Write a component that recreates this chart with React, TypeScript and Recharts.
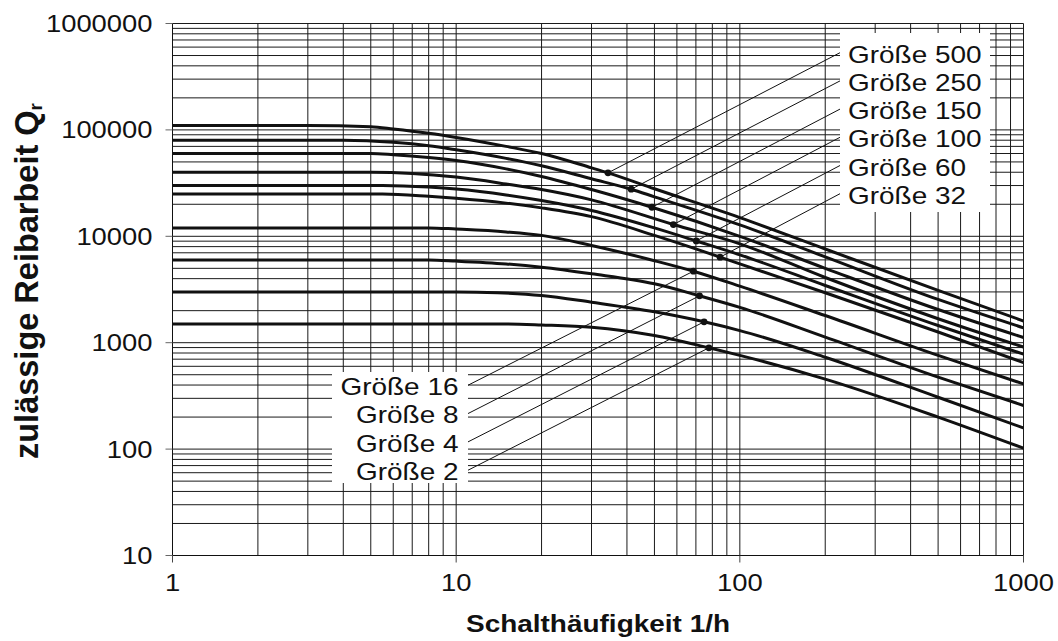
import { LineChart, Line, XAxis, YAxis, CartesianGrid } from "recharts"

const FONT = '"Liberation Sans", Arial, Helvetica, sans-serif'
const STRETCH = 1.165
const INK = "#111"

// Größe -> points [Schalthäufigkeit 1/h, zulässige Reibarbeit Qr]
const q500 = [[1, 110000], [3, 110000], [5, 107000], [6, 102000], [8, 93000], [10, 85000], [15, 70000], [20, 60000], [30, 44000], [34.3, 39500], [50, 28000], [100, 15000], [200, 7600], [500, 3100], [1000, 1600]]
const q250 = [[1, 80000], [4, 80000], [6, 76500], [8, 71000], [10, 65000], [15, 54000], [20, 46000], [30, 34700], [41.4, 27700], [50, 23500], [100, 12800], [200, 6400], [500, 2550], [1000, 1380]]
const q150 = [[1, 60000], [5, 60000], [6, 58500], [8, 55000], [10, 51500], [15, 43000], [20, 36500], [30, 27500], [49, 18750], [100, 10000], [200, 5000], [500, 2050], [1000, 1120]]
const q100 = [[1, 40000], [5, 40000], [7, 39000], [10, 36000], [15, 31000], [20, 27500], [30, 22000], [58.3, 12900], [100, 8500], [200, 4100], [500, 1680], [1000, 910]]
const q60 = [[1, 30000], [5.5, 30000], [8, 29000], [10, 27800], [15, 24500], [20, 21700], [30, 17500], [50, 12000], [70.2, 9040], [100, 6700], [200, 3450], [500, 1450], [1000, 780]]
const q32 = [[1, 25000], [5.5, 25000], [8, 23800], [10, 22800], [15, 20500], [20, 18500], [30, 15300], [50, 10200], [85.2, 6370], [100, 5500], [200, 2950], [500, 1260], [1000, 650]]
const q16 = [[1, 12000], [8, 12000], [10, 11700], [15, 11000], [20, 10200], [30, 8200], [50, 5900], [68.6, 4700], [100, 3400], [200, 1800], [500, 760], [1000, 410]]
const q8 = [[1, 6000], [8, 6000], [10, 5850], [15, 5500], [20, 5130], [30, 4450], [50, 3580], [72.1, 2760], [100, 2150], [200, 1130], [500, 475], [1000, 257]]
const q4 = [[1, 3000], [10, 3000], [14, 2950], [20, 2780], [30, 2400], [50, 1950], [74.8, 1571], [100, 1300], [200, 730], [500, 307], [1000, 158]]
const q2 = [[1, 1500], [15, 1500], [20, 1470], [30, 1400], [50, 1170], [77.8, 895], [100, 760], [200, 455], [500, 200], [1000, 102]]

const sizes = [500, 250, 150, 100, 60, 32, 16, 8, 4, 2]
const curves = [q500, q250, q150, q100, q60, q32, q16, q8, q4, q2]
// frequency where each curve carries its label dot
const markerFreq = [34.3, 41.4, 49, 58.3, 70.2, 85.2, 68.6, 72.1, 74.8, 77.8]

const xTicks = [1, 10, 100, 1000]
const yTicks = [10, 100, 1000, 10000, 100000, 1000000]

const minorValues = (from: number, to: number) => {
  const out: number[] = []
  for (let d = from; d < to; d *= 10) for (let k = 1; k < 10; k++) out.push(d * k)
  out.push(to)
  return out
}
const gridX = minorValues(1, 1000)
const gridY = minorValues(10, 1000000)

const series = curves.map((pts) => pts.map(([x, y]) => ({ x, y })))

/* ── label layout ── */

function labelAnchor(i: number) {
  if (i < 6) {
    const base = 62.7 + 28.2 * i
    return { lx: 840, ly: base - 10, tx: 848, ty: base, anchor: "start" as const }
  }
  const base = 395 + 28.33 * (i - 6)
  return { lx: 465.5, ly: base - 8.5, tx: 458.5, ty: base, anchor: "end" as const }
}

function markerDot(i: number) {
  // eslint-disable-next-line @typescript-eslint/no-explicit-any
  return (props: any) => {
    const { cx, cy, payload, index } = props
    const key = `dot-${i}-${index}`
    if (!payload || payload.x !== markerFreq[i] || cx == null || cy == null) return <g key={key} />
    const a = labelAnchor(i)
    return (
      <g key={key}>
        <line x1={cx} y1={cy} x2={a.lx} y2={a.ly} stroke={INK} strokeWidth={1} />
        <circle cx={cx} cy={cy} r={3.4} fill={INK} />
      </g>
    )
  }
}

/* ── ticks ── */

// eslint-disable-next-line @typescript-eslint/no-explicit-any
function YTick({ x, y, payload }: any) {
  return (
    <text
      transform={`translate(${x},${y + 8.4}) scale(${STRETCH},1)`}
      textAnchor="end"
      fontFamily={FONT}
      fontSize={23.5}
      fill={INK}
    >
      {String(payload.value)}
    </text>
  )
}

// eslint-disable-next-line @typescript-eslint/no-explicit-any
function XTick({ x, y, payload }: any) {
  return (
    <text
      transform={`translate(${x},${y + 24}) scale(${STRETCH},1)`}
      textAnchor="middle"
      fontFamily={FONT}
      fontSize={23.5}
      fill={INK}
    >
      {String(payload.value)}
    </text>
  )
}

export default function App() {
  return (
    <div style={{ position: "absolute", left: 0, top: 0, width: 1058, height: 641, background: "#fff" }}>
      <LineChart
        width={1058}
        height={641}
        margin={{ top: 23.5, right: 34.5, bottom: 25.5, left: 0.5 }}
      >
        <CartesianGrid
          horizontalValues={gridY}
          verticalValues={gridX}
          stroke="#1a1a1a"
          strokeWidth={1}
        />
        <XAxis
          dataKey="x"
          type="number"
          scale="log"
          domain={[1, 1000]}
          ticks={xTicks}
          interval={0}
          allowDataOverflow
          height={60}
          tickSize={7}
          tickMargin={4}
          tick={<XTick />}
          tickLine={{ stroke: "#444" }}
          axisLine={{ stroke: INK }}
        />
        <YAxis
          dataKey="y"
          type="number"
          scale="log"
          domain={[10, 1000000]}
          ticks={yTicks}
          interval={0}
          allowDataOverflow
          width={172}
          tickSize={7}
          tickMargin={13}
          tick={<YTick />}
          tickLine={{ stroke: "#666" }}
          axisLine={{ stroke: INK }}
        />
        {series.map((data, i) => (
          <Line
            key={sizes[i]}
            data={data}
            dataKey="y"
            name={`Größe ${sizes[i]}`}
            type="monotone"
            stroke={INK}
            strokeWidth={3}
            dot={markerDot(i)}
            activeDot={false}
            isAnimationActive={false}
          />
        ))}
      </LineChart>

      <svg
        width={1058}
        height={641}
        style={{ position: "absolute", left: 0, top: 0, pointerEvents: "none" }}
        fontFamily={FONT}
      >
        <rect x={840} y={33} width={150} height={179} fill="#fff" />
        <rect x={332} y={372} width={136} height={111} fill="#fff" />
        {sizes.map((s, i) => {
          const a = labelAnchor(i)
          return (
            <text
              key={s}
              transform={`translate(${a.tx},${a.ty}) scale(${STRETCH},1)`}
              textAnchor={a.anchor}
              fontSize={24}
              fill={INK}
            >
              {`Größe ${s}`}
            </text>
          )
        })}
        <text
          transform={`translate(598,632) scale(${STRETCH},1)`}
          textAnchor="middle"
          fontSize={24}
          fontWeight="bold"
          fill={INK}
        >
          Schalthäufigkeit 1/h
        </text>
        <text
          transform="translate(27,281) rotate(-90)"
          textAnchor="middle"
          dominantBaseline="central"
          fontSize={32.5}
          fontWeight="bold"
          fill={INK}
        >
          zulässige Reibarbeit Q<tspan fontSize={19} dy={8}>r</tspan>
        </text>
      </svg>
    </div>
  )
}
